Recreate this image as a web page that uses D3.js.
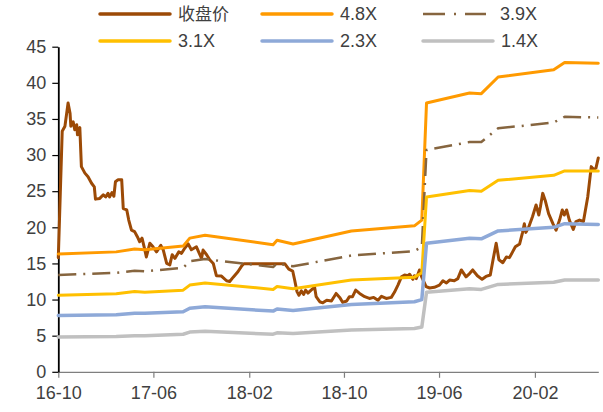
<!DOCTYPE html>
<html>
<head>
<meta charset="utf-8">
<script src="https://cdn.jsdelivr.net/npm/d3@7"></script>
<style>
  html, body { margin: 0; padding: 0; background: #fff; }
  svg { display: block; }
  text { font-family: "Liberation Sans", Arial, sans-serif; fill: #404040; }
</style>
</head>
<body>
<svg id="chart" width="603" height="412"></svg>
<script>
// Closing price (dates and values)
const priceDates = [
  "2016-10-01","2016-10-11","2016-10-18","2016-10-26","2016-10-31","2016-11-02","2016-11-08","2016-11-12","2016-11-17","2016-11-19",
  "2016-11-25","2016-11-29","2016-12-08","2016-12-16","2016-12-25","2017-01-01","2017-01-04","2017-01-15","2017-01-24","2017-01-30",
  "2017-02-05","2017-02-09","2017-02-15","2017-02-20","2017-02-24","2017-03-03","2017-03-12","2017-03-16","2017-03-25","2017-03-30",
  "2017-04-06","2017-04-14","2017-04-21","2017-04-27","2017-05-03","2017-05-10","2017-05-14","2017-05-23","2017-05-31","2017-06-09",
  "2017-06-20","2017-06-26","2017-07-05","2017-07-13","2017-07-19","2017-07-26","2017-08-05","2017-08-12","2017-08-20","2017-08-29",
  "2017-09-06","2017-09-19","2017-10-02","2017-10-06","2017-10-15","2017-10-23","2017-11-01","2017-11-09","2017-11-22","2017-12-05",
  "2017-12-13","2017-12-22","2018-01-03","2018-01-12","2018-01-18","2018-05-03","2018-05-13","2018-05-23","2018-05-28","2018-06-03",
  "2018-06-08","2018-06-14","2018-06-20","2018-06-25","2018-07-01","2018-07-09","2018-07-18","2018-07-22","2018-07-31","2018-08-08",
  "2018-08-18","2018-08-30","2018-09-11","2018-09-20","2018-09-28","2018-10-08","2018-10-15","2018-10-23","2018-10-31","2018-11-10",
  "2018-11-23","2018-12-05","2018-12-16","2018-12-27","2019-01-05","2019-01-17","2019-01-30","2019-02-07","2019-02-16","2019-02-25",
  "2019-03-05","2019-03-13","2019-03-18","2019-03-26","2019-03-30","2019-04-04","2019-04-12","2019-04-17","2019-04-29","2019-05-08",
  "2019-05-20","2019-06-02","2019-06-11","2019-06-20","2019-06-28","2019-07-10","2019-07-19","2019-07-28","2019-08-09","2019-08-18",
  "2019-08-26","2019-09-07","2019-09-19","2019-09-29","2019-10-10","2019-10-17","2019-10-25","2019-11-01","2019-11-11","2019-11-20",
  "2019-11-28","2019-12-06","2019-12-13","2019-12-24","2019-12-31","2020-01-05","2020-01-09","2020-01-16","2020-01-26","2020-02-04",
  "2020-02-11","2020-02-15","2020-02-21","2020-02-28","2020-03-07","2020-03-18","2020-03-26","2020-04-04","2020-04-11","2020-04-16",
  "2020-04-22","2020-04-29","2020-05-09","2020-05-16","2020-05-25","2020-06-04","2020-06-15","2020-06-24","2020-06-30","2020-07-06",
  "2020-07-12"
];
const priceValues = [
  15.8, 33.3, 34.0, 37.2, 35.8, 34.0, 34.6, 33.5, 34.2, 32.8,
  33.8, 28.4, 27.5, 27.0, 26.1, 25.6, 23.9, 24.0, 24.5, 24.2,
  24.7, 24.2, 24.8, 24.3, 26.3, 26.6, 26.6, 22.6, 22.4, 21.0,
  19.6, 19.4, 18.7, 18.0, 18.5, 16.9, 15.9, 17.8, 17.3, 16.6,
  17.5, 16.9, 15.0, 14.8, 16.2, 15.7, 16.6, 16.4, 17.1, 17.7,
  16.9, 17.3, 15.7, 16.85, 16.2, 15.5, 15.0, 13.3, 13.25, 12.6,
  12.5, 13.1, 13.85, 14.6, 14.95, 14.95, 14.2, 13.95, 12.7, 11.1,
  10.6, 11.2, 10.7, 11.3, 10.9, 11.3, 11.7, 10.4, 9.7, 9.55,
  9.9, 9.8, 10.85, 10.3, 9.6, 9.8, 10.4, 10.4, 11.3, 10.85,
  10.4, 10.15, 10.3, 9.9, 10.45, 10.15, 10.3, 11.0, 12.0, 13.15,
  13.4, 13.3, 13.5, 12.8, 13.3, 12.9, 14.1, 13.2, 11.8, 11.6,
  11.7, 12.0, 12.6, 12.3, 12.7, 12.6, 12.9, 14.1, 13.15, 13.6,
  14.1, 13.3, 12.8, 13.2, 13.4, 15.5, 17.8, 15.5, 15.1, 15.9,
  15.8, 16.6, 17.3, 17.7, 19.2, 20.5, 19.3, 20.0, 21.5, 23.1,
  21.7, 22.8, 24.7, 23.6, 21.9, 20.5, 19.6, 21.0, 22.4, 21.7,
  22.4, 21.0, 19.7, 20.8, 21.0, 20.8, 24.2, 28.4, 28.0, 28.2,
  29.6
];

// Valuation bands (shared change dates)
const bandDates = [
  "2016-10-01","2017-02-26","2017-04-14","2017-05-10","2017-08-16","2017-09-02","2017-10-11","2018-04-03","2018-04-13","2018-05-24",
  "2018-10-20","2019-03-30","2019-04-18","2019-04-30","2019-08-18","2019-09-17","2019-10-30","2020-03-20","2020-04-17","2020-07-12"
];
const band48 = [16.3, 16.6, 17.0, 16.9, 17.4, 18.5, 18.9, 17.6, 18.2, 17.7, 19.5, 20.2, 21.0, 37.2, 38.6, 38.5, 40.8, 41.8, 42.8, 42.7];
const band39 = [13.4, 13.7, 14.0, 13.9, 14.4, 15.3, 15.6, 14.5, 15.0, 14.6, 16.1, 16.7, 17.3, 30.7, 31.8, 31.8, 33.7, 34.5, 35.3, 35.2];
const band31 = [10.6, 10.8, 11.1, 11.0, 11.3, 12.0, 12.3, 11.4, 11.8, 11.5, 12.7, 13.1, 13.7, 24.2, 25.1, 25.0, 26.5, 27.2, 27.8, 27.8];
const band23 = [7.8, 7.9, 8.1, 8.1, 8.3, 8.8, 9.0, 8.4, 8.7, 8.5, 9.3, 9.7, 10.0, 17.8, 18.5, 18.4, 19.5, 20.0, 20.5, 20.4];
const band14 = [4.8, 4.9, 5.0, 5.0, 5.2, 5.5, 5.6, 5.2, 5.4, 5.3, 5.8, 6.0, 6.2, 11.0, 11.5, 11.4, 12.1, 12.4, 12.7, 12.7];

const seriesNames = ["收盘价", "4.8X", "3.9X", "3.1X", "2.3X", "1.4X"];
const yTicks = [0, 5, 10, 15, 20, 25, 30, 35, 40, 45];
const xTickDates = ["2016-10-01", "2017-06-01", "2018-02-01", "2018-10-01", "2019-06-01", "2020-02-01"];

const parse = d3.timeParse("%Y-%m-%d");
const styles = [
  { color: "#9C4A06", width: 3, dash: null },
  { color: "#FF9A00", width: 3, dash: null },
  { color: "#86653F", width: 2.5, dash: "18,7,2,7" },
  { color: "#FFC000", width: 3, dash: null },
  { color: "#8EA9D8", width: 3.5, dash: null },
  { color: "#C0C0C0", width: 3.5, dash: null }
];

const svg = d3.select("#chart");
const plotLeft = 58.3, plotRight = 598.3, plotTop = 46.7, plotBottom = 371.8;

const x = d3.scaleTime()
  .domain([parse("2016-10-01"), parse("2020-07-12")])
  .range([plotLeft, plotRight]);
const y = d3.scaleLinear().domain([0, 45]).range([plotBottom, plotTop]);

// x axis
const xAxis = d3.axisBottom(x)
  .tickValues(xTickDates.map(parse))
  .tickFormat(d3.timeFormat("%y-%m"))
  .tickSize(6)
  .tickSizeOuter(0);
const gx = svg.append("g").attr("transform", `translate(0,${plotBottom})`).call(xAxis);
gx.select(".domain").attr("stroke", "#7f7f7f").attr("stroke-width", 1.2);
gx.selectAll(".tick line").attr("stroke", "#7f7f7f").attr("stroke-width", 1.2);
gx.selectAll(".tick text").attr("dy", "1.05em").attr("y", 8)
  .style("font-size", "18px").style("font-family", "Liberation Sans, Arial, sans-serif").attr("fill", "#404040");

// y axis
const yAxis = d3.axisLeft(y).tickValues(yTicks).tickSize(6).tickSizeOuter(0).tickPadding(5);
const gy = svg.append("g").attr("transform", `translate(${plotLeft},0)`).call(yAxis);
gy.select(".domain").attr("stroke", "#000").attr("stroke-width", 1.8);
gy.selectAll(".tick line").attr("stroke", "#000").attr("stroke-width", 1.2);
gy.selectAll(".tick text").attr("x", -12)
  .style("font-size", "18px").style("font-family", "Liberation Sans, Arial, sans-serif").attr("fill", "#404040");

// lines
const line = d3.line().x(d => x(d[0])).y(d => y(d[1]));
const priceData = priceDates.map((d, i) => [parse(d), priceValues[i]]);
const bands = [band48, band39, band31, band23, band14];
const allSeries = [priceData].concat(bands.map(b => bandDates.map((d, i) => [parse(d), b[i]])));

allSeries.forEach((data, i) => {
  const s = styles[i];
  svg.append("path")
    .datum(data)
    .attr("fill", "none")
    .attr("stroke", s.color)
    .attr("stroke-width", s.width)
    .attr("stroke-linejoin", "round")
    .attr("stroke-linecap", s.dash ? "butt" : "round")
    .attr("stroke-dasharray", s.dash)
    .attr("d", line);
});

// legend
const legendCols = [100, 262, 423];
const legendRows = [14, 41];
seriesNames.forEach((name, i) => {
  const s = styles[i];
  const cx = legendCols[i % 3], cy = legendRows[Math.floor(i / 3)];
  const g = svg.append("g");
  g.append("line")
    .attr("x1", cx).attr("x2", cx + (s.dash ? 63 : 70))
    .attr("y1", cy).attr("y2", cy)
    .attr("stroke", s.color)
    .attr("stroke-width", s.dash ? 2.5 : 3.5)
    .attr("stroke-dasharray", s.dash ? "22,9,2,9" : null)
    .attr("stroke-linecap", s.dash ? "butt" : "round");
  g.append("text")
    .attr("x", cx + (s.dash ? 77 : 78))
    .attr("y", cy)
    .attr("dy", "0.36em")
    .style("font-size", i === 0 ? "17px" : "18px")
    .style("font-family", i === 0 ? "'Noto Sans CJK SC', sans-serif" : "'Liberation Sans', Arial, sans-serif")
    .attr("fill", "#404040")
    .text(name);
});
</script>
</body>
</html>
